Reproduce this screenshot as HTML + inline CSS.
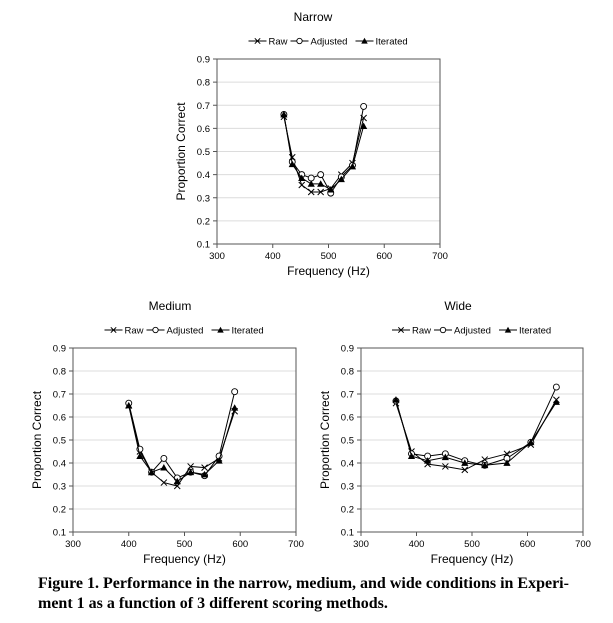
<!DOCTYPE html>
<html><head><meta charset="utf-8"><style>
body{margin:0;background:#fff;width:613px;height:623px;overflow:hidden;position:relative}
svg{position:absolute;left:0;top:0}
.cap{position:absolute;left:38px;top:574px;width:575px;font:bold 16px "Liberation Serif",serif;line-height:20px;color:#000;white-space:nowrap}
</style></head><body>
<svg id="chart" width="613" height="623" font-family="Liberation Sans, sans-serif"></svg>
<div class="cap">Figure 1. Performance in the narrow, medium, and wide conditions in Experi-<br>ment 1 as a function of 3 different scoring methods.</div>
<script>
const yTicks=[0.1,0.2,0.3,0.4,0.5,0.6,0.7,0.8,0.9];
const xTicks=[300,400,500,600,700];
const narrowFreq=[420,435,452,469,486,504,523,543,563];
const narrowRaw=[.65,.475,.355,.325,.325,.34,.40,.45,.645];
const narrowAdj=[.66,.455,.40,.385,.40,.32,.39,.44,.695];
const narrowIter=[.66,.445,.385,.36,.36,.335,.38,.435,.61];
const mediumFreq=[400,420,441,463,487,511,536,562,590];
const mediumRaw=[.65,.45,.36,.315,.30,.385,.38,.42,.625];
const mediumAdj=[.66,.46,.36,.42,.335,.36,.345,.43,.71];
const mediumIter=[.65,.43,.36,.38,.32,.36,.35,.41,.64];
const wideFreq=[363,391,420,452,487,523,563,606,652];
const wideRaw=[.66,.45,.395,.385,.37,.415,.44,.48,.675];
const wideAdj=[.67,.44,.43,.44,.41,.39,.42,.49,.73];
const wideIter=[.675,.43,.41,.425,.40,.39,.40,.49,.665];
const svg=document.getElementById('chart');
const NS='http://www.w3.org/2000/svg';
function mk(t,a,p){const e=document.createElementNS(NS,t);for(const k in a)e.setAttribute(k,a[k]);(p||svg).appendChild(e);return e;}
function txt(x,y,s,size,anchor,p){const e=mk('text',{x:x,y:y,'font-size':size,'text-anchor':anchor||'middle',fill:'#000'},p);e.textContent=s;return e;}
function marker(kind,x,y,g,sc){sc=sc||1;
 if(kind==='raw'){const d=3*sc;mk('path',{d:`M${x-d} ${y-d}L${x+d} ${y+d}M${x-d} ${y+d}L${x+d} ${y-d}`,stroke:'#000','stroke-width':1,fill:'none'},g);}
 else if(kind==='adj'){mk('circle',{cx:x,cy:y,r:3*sc,fill:'#fff',stroke:'#000','stroke-width':0.9},g);}
 else{const d=3.6*sc;mk('path',{d:`M${x} ${y-d}L${x+d} ${y+d*0.8}L${x-d} ${y+d*0.8}Z`,fill:'#000'},g);}
}
function chart(name,title,L,R,T,B,titleX,freq,raw,adj,iter){
 const g=mk('g',{});
 
 
 const xs=v=>L+(v-300)/400*(R-L), ys=v=>B-(v-0.1)/0.8*(B-T);
 const t=txt(titleX,T-38,title,12,'middle',g);
 
 yTicks.forEach(v=>{ if(v>0.1) mk('line',{x1:L,x2:R,y1:ys(v),y2:ys(v),stroke:'#dcdcdc','stroke-width':1},g);
  mk('line',{x1:L-4,x2:L,y1:ys(v),y2:ys(v),stroke:'#555'},g);
  txt(L-7,ys(v)+3.5,v.toFixed(1),9.5,'end',g);});
 mk('rect',{x:L,y:T,width:R-L,height:B-T,fill:'none',stroke:'#555','stroke-width':1},g);
 xTicks.forEach(v=>{mk('line',{x1:xs(v),x2:xs(v),y1:B,y2:B+4,stroke:'#555'},g);txt(xs(v),B+15,String(v),9.5,'middle',g);});
 const xt=txt((L+R)/2,B+31,'Frequency (Hz)',12,'middle',g);
 
 const yt=txt(0,0,'Proportion Correct',12,'middle',g);
 yt.setAttribute('transform',`translate(${L-32},${(T+B)/2}) rotate(-90)`);
 
 [['raw',raw],['adj',adj],['iter',iter]].forEach(([k,arr])=>{
  const s=mk('g',{},g);
  
  mk('polyline',{points:arr.map((v,i)=>xs(freq[i])+','+ys(v)).join(' '),fill:'none',stroke:'#000','stroke-width':1},s);
  arr.forEach((v,i)=>marker(k,xs(freq[i]),ys(v),s));
 });
 const lg=mk('g',{},g);
 
 const ly=T-18;let lx=(L+R)/2-80;
 [['raw','Raw',22],['adj','Adjusted',45],['iter','Iterated',38]].forEach(([k,lab,w])=>{
  mk('line',{x1:lx,x2:lx+18,y1:ly,y2:ly,stroke:'#000'},lg);marker(k,lx+9,ly,lg,0.9);
  txt(lx+20,ly+3.5,lab,9.5,'start',lg);lx+=20+w;});
}
chart('narrow','Narrow',217,440,59,244,313,narrowFreq,narrowRaw,narrowAdj,narrowIter);
chart('medium','Medium',73,296,348,532,170,mediumFreq,mediumRaw,mediumAdj,mediumIter);
chart('wide','Wide',361,583,348,532,458,wideFreq,wideRaw,wideAdj,wideIter);
</script>
</body></html>
